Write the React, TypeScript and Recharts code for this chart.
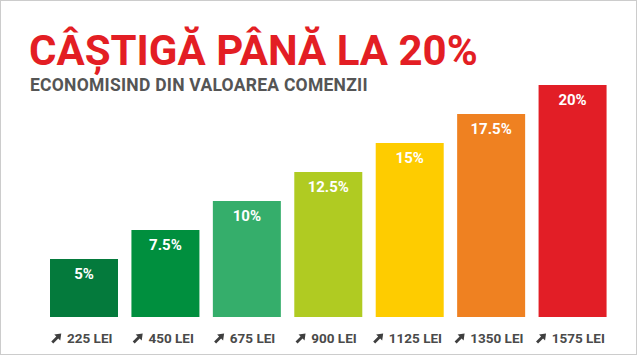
import React from 'react';
import { BarChart, Bar, XAxis, YAxis, Cell, LabelList } from 'recharts';

const thresholds = ['225 LEI', '450 LEI', '675 LEI', '900 LEI', '1125 LEI', '1350 LEI', '1575 LEI'];
const discounts = [5, 7.5, 10, 12.5, 15, 17.5, 20];
const discountLabels = ['5%', '7.5%', '10%', '12.5%', '15%', '17.5%', '20%'];
const barColors = ['#047a3c', '#008f3e', '#35ae6b', '#b0cb22', '#fecc00', '#ef8121', '#e21e26'];

const data = thresholds.map((t, i) => ({ name: t, value: discounts[i], label: discountLabels[i] }));

const FONT = 'Roboto, "Noto Sans", sans-serif';
const TICK_SIZE = 13.5;

const charW: Record<string, number> = { ' ': 0.25, L: 0.54, E: 0.57, I: 0.28 };
const textWidth = (s: string, size: number) =>
  s.split('').reduce((acc, c) => acc + (charW[c] ?? 0.562) * size, 0);

const Tick = (props: any) => {
  const { x, y, payload } = props;
  const label: string = payload.value;
  const cx = x + 6;
  const w = textWidth(label, TICK_SIZE);
  const ax = cx - w / 2 - 6;
  const by = y + 18;
  return (
    <g>
      <path
        d={`M ${ax - 10} ${by - 1.5} L ${ax - 5} ${by - 6.5} L ${ax - 7} ${by - 8.5} L ${ax} ${by - 9.5} L ${ax - 1} ${by - 2.5} L ${ax - 3} ${by - 4.5} L ${ax - 8} ${by + 0.5} Z`}
        fill="#3f3f3f"
      />
      <text x={cx} y={by} textAnchor="middle" fontFamily={FONT} fontWeight={700} fontSize={TICK_SIZE} fill="#4a4a4a">
        {label}
      </text>
    </g>
  );
};

const ValueLabel = (props: any) => {
  const { x, y, width, value } = props;
  return (
    <text x={x + width / 2} y={y + 20} textAnchor="middle" fontFamily={FONT} fontWeight={700} fontSize={15} fill="#ffffff">
      {value}
    </text>
  );
};

export default function App() {
  return (
    <div style={{ position: 'absolute', left: 0, top: 0, width: 640, height: 356, background: '#fff' }}>
      <BarChart
        width={640}
        height={356}
        data={data}
        margin={{ top: 85, right: 27, bottom: 9, left: 43 }}
      >
        <XAxis dataKey="name" axisLine={false} tickLine={false} height={30} tick={<Tick />} interval={0} />
        <YAxis hide domain={[0, 20]} />
        <Bar dataKey="value" barSize={68} isAnimationActive={false}>
          {data.map((d, i) => (
            <Cell key={d.name} fill={barColors[i]} />
          ))}
          <LabelList dataKey="label" content={<ValueLabel />} />
        </Bar>
      </BarChart>
      <svg width={640} height={356} style={{ position: 'absolute', left: 0, top: 0, pointerEvents: 'none' }}>
        <rect x={0.5} y={0.5} width={636} height={354} fill="none" stroke="#cccccc" strokeWidth={1} />
        <text x={29} y={65} fontFamily={FONT} fontWeight={700} fontSize={42} fill="#e31e24">
          CÂȘTIGĂ PÂNĂ LA 20%
        </text>
        <text x={30} y={91} fontFamily={FONT} fontWeight={700} fontSize={17.5} letterSpacing={0.25} fill="#555555">
          ECONOMISIND DIN VALOAREA COMENZII
        </text>
      </svg>
    </div>
  );
}
